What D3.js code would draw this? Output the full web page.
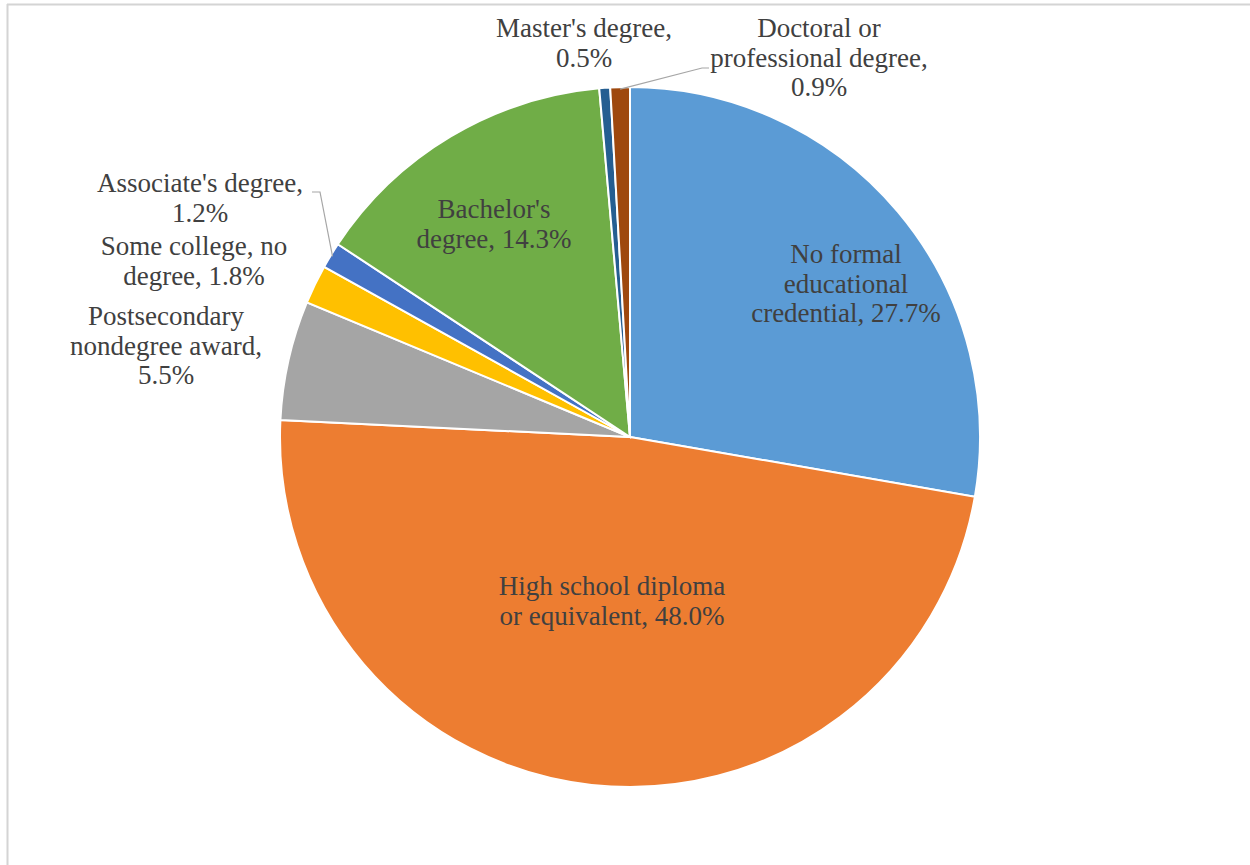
<!DOCTYPE html>
<html>
<head>
<meta charset="utf-8">
<script src="https://cdn.jsdelivr.net/npm/d3@7"></script>
<style>
  body { margin: 0; background: #fff; }
</style>
</head>
<body>
<div id="viz-container"></div>
<script>
// data
let categories = ["No formal educational credential", "High school diploma or equivalent",
  "Postsecondary nondegree award", "Some college, no degree", "Associate's degree",
  "Bachelor's degree", "Master's degree", "Doctoral or professional degree"];
let shares = [27.7, 48.0, 5.5, 1.8, 1.2, 14.3, 0.5, 0.9];
let colors = ["#5B9BD5", "#ED7D31", "#A5A5A5", "#FFC000", "#4472C4", "#70AD47", "#255E91", "#9E480E"];
// label lines as shown on the chart
let labelLines = [
  ["No formal", "educational", "credential, 27.7%"],
  ["High school diploma", "or equivalent, 48.0%"],
  ["Postsecondary", "nondegree award,", "5.5%"],
  ["Some college, no", "degree, 1.8%"],
  ["Associate's degree,", "1.2%"],
  ["Bachelor's", "degree, 14.3%"],
  ["Master's degree,", "0.5%"],
  ["Doctoral or", "professional degree,", "0.9%"]
];
// label centre x and first baseline y
let labelPos = [[846, 263], [612, 595], [166, 325], [194, 255], [200, 192], [494, 218], [584, 37], [819, 37]];

let W = 1250, H = 865;
let cx = 630, cy = 437, radius = 350;

let viz = d3.select("#viz-container")
    .append("svg")
    .attr("width", W)
    .attr("height", H);

// frame lines from the screenshot
viz.append("line").attr("x1", 7).attr("x2", W).attr("y1", 4.5).attr("y2", 4.5)
    .attr("stroke", "#d4d4d4").attr("stroke-width", 2);
viz.append("line").attr("x1", 7.5).attr("x2", 7.5).attr("y1", 4).attr("y2", H)
    .attr("stroke", "#d4d4d4").attr("stroke-width", 2);

let pie = d3.pie().sort(null).value(d => d);
let arcs = pie(shares);
let arc = d3.arc().innerRadius(0).outerRadius(radius);

let g = viz.append("g").attr("transform", "translate(" + cx + "," + cy + ")");

g.selectAll(".slice").data(arcs).enter().append("path")
    .attr("class", "slice")
    .attr("d", arc)
    .attr("fill", (d, i) => colors[i])
    .attr("stroke", "#fff")
    .attr("stroke-width", 2);

// leader lines for the two small slices
let outer = d3.arc().innerRadius(radius - 2).outerRadius(radius - 2);
function leader(i, bend, end) {
    let p = outer.centroid(arcs[i]);
    let pts = [[p[0] + cx, p[1] + cy], bend, end];
    viz.append("path")
        .attr("d", d3.line()(pts))
        .attr("fill", "none")
        .attr("stroke", "#a6a6a6")
        .attr("stroke-width", 1.2);
}
leader(7, [702, 68], [709, 68]);
leader(4, [320, 192], [312, 192]);

let labels = viz.selectAll(".lbl").data(labelLines).enter().append("text")
    .attr("class", "lbl")
    .attr("text-anchor", "middle")
    .attr("font-family", "'Liberation Serif', 'Times New Roman', serif")
    .attr("fill", "#404040")
    .attr("font-size", 27);

labels.each(function (lines, i) {
    let t = d3.select(this);
    lines.forEach((s, k) => {
        t.append("tspan")
            .attr("x", labelPos[i][0])
            .attr("y", labelPos[i][1] + k * 29.5)
            .text(s);
    });
});
</script>
</body>
</html>
